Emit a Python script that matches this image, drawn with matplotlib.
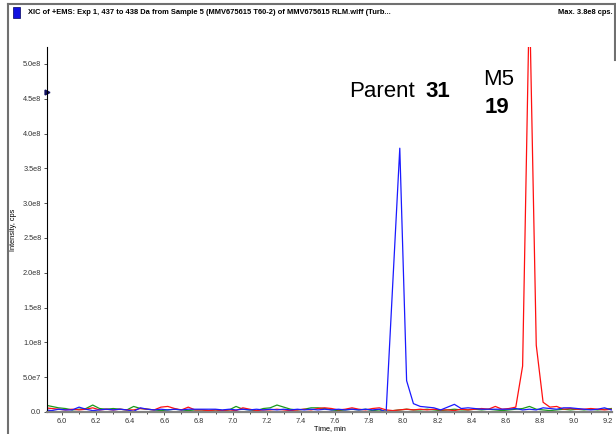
import numpy as np
import matplotlib.pyplot as plt
from matplotlib.lines import Line2D
from matplotlib.patches import Rectangle
from matplotlib.ticker import MultipleLocator, FuncFormatter

# sampling grid of the chromatogram (min)
time = np.round(np.arange(5.90, 9.2201, 0.04), 2)

# intensities in units of 1e8 cps
blue = [0.03, 0.02, 0.04, 0.03, 0.03, 0.07, 0.04, 0.02, 0.03, 0.04,
        0.03, 0.04, 0.03, 0.01, 0.06, 0.04, 0.03, 0.04, 0.03, 0.04,
        0.03, 0.04, 0.04, 0.04, 0.04, 0.04, 0.03, 0.04, 0.03, 0.04,
        0.03, 0.04, 0.03, 0.04, 0.03, 0.04, 0.03, 0.04, 0.03, 0.04,
        0.03, 0.04, 0.03, 0.04, 0.03, 0.04, 0.03, 0.04, 0.03, 0.04,
        0.00, 1.90, 3.79, 0.45, 0.12, 0.08, 0.07, 0.06, 0.03, 0.07,
        0.11, 0.05, 0.06, 0.05, 0.04, 0.04, 0.04, 0.04, 0.04, 0.05,
        0.03, 0.04, 0.03, 0.06, 0.05, 0.04, 0.06, 0.06, 0.05, 0.04,
        0.03, 0.04, 0.06, 0.03]
red = [0.06, 0.05, 0.04, 0.03, 0.04, 0.03, 0.04, 0.06, 0.03, 0.04,
       0.03, 0.04, 0.03, 0.03, 0.05, 0.04, 0.03, 0.07, 0.08, 0.05,
       0.03, 0.07, 0.03, 0.03, 0.02, 0.03, 0.02, 0.03, 0.02, 0.06,
       0.04, 0.02, 0.03, 0.03, 0.04, 0.03, 0.02, 0.03, 0.04, 0.03,
       0.05, 0.06, 0.05, 0.03, 0.04, 0.06, 0.04, 0.03, 0.05, 0.06,
       0.03, 0.02, 0.03, 0.04, 0.03, 0.04, 0.03, 0.04, 0.03, 0.03,
       0.02, 0.04, 0.03, 0.04, 0.05, 0.04, 0.08, 0.04, 0.05, 0.07,
       0.66, 6.00, 0.96, 0.14, 0.07, 0.08, 0.04, 0.05, 0.04, 0.04,
       0.05, 0.04, 0.03, 0.04]
green = [0.10, 0.08, 0.06, 0.05, 0.03, 0.04, 0.05, 0.10, 0.05, 0.04,
         0.05, 0.04, 0.03, 0.08, 0.05, 0.04, 0.03, 0.02, 0.03, 0.04,
         0.03, 0.02, 0.03, 0.03, 0.02, 0.03, 0.02, 0.03, 0.08, 0.04,
         0.03, 0.02, 0.05, 0.06, 0.10, 0.07, 0.04, 0.03, 0.04, 0.06,
         0.06, 0.05, 0.03, 0.02, 0.03, 0.04, 0.03, 0.04, 0.02, 0.03,
         0.01, 0.02, 0.03, 0.04, 0.03, 0.03, 0.04, 0.03, 0.02, 0.03,
         0.04, 0.03, 0.03, 0.04, 0.03, 0.04, 0.03, 0.02, 0.03, 0.04,
         0.05, 0.08, 0.04, 0.03, 0.02, 0.03, 0.04, 0.03, 0.04, 0.03,
         0.04, 0.03, 0.04, 0.05]

title = "XIC of +EMS: Exp 1, 437 to 438 Da from Sample 5 (MMV675615 T60-2) of MMV675615 RLM.wiff (Turb..."
maxtxt = "Max. 3.8e8 cps."
small = ['Liberation Sans Narrow', 'Liberation Sans', 'DejaVu Sans']
big = ['Liberation Sans', 'DejaVu Sans']

W, H = 616, 434
fig = plt.figure(figsize=(W / 100, H / 100), dpi=100)
ax = fig.add_axes([47 / W, (H - 412) / H, (612 - 47) / W, (412 - 47) / H])

ax.plot(time, np.array(green) * 1e8, color='#1a9a1a', lw=0.9)
ax.plot(time, np.array(red) * 1e8, color='#ff1010', lw=0.9)
ax.plot(time, np.array(blue) * 1e8, color='#1a1aff', lw=0.9)

ax.set_xlim(5.912, 9.224)
ax.set_ylim(0, 5.244e8)

ax.xaxis.set_major_locator(MultipleLocator(0.2))
ax.xaxis.set_minor_locator(MultipleLocator(0.1))
ax.yaxis.set_major_locator(MultipleLocator(0.5e8))
ax.xaxis.set_major_formatter(FuncFormatter(lambda v, p: f"{v:.1f}"))


def yfmt(v, p):
    if v <= 0:
        return "0.0"
    e = int(np.floor(np.log10(v)))
    return f"{v / 10**e:.1f}e{e}"


ax.yaxis.set_major_formatter(FuncFormatter(yfmt))
ax.tick_params(axis='both', labelsize=5.3, colors='#333333', length=2.5, width=0.6, pad=1.5)
ax.tick_params(axis='x', which='minor', length=1.5, width=0.5)
for lab in ax.get_xticklabels() + ax.get_yticklabels():
    lab.set_family(small)

for s in ['top', 'right']:
    ax.spines[s].set_visible(False)
ax.spines['left'].set_linewidth(0.8)
ax.spines['bottom'].set_color('#808080')
ax.spines['bottom'].set_linewidth(1.6)

ax.set_xlabel("Time, min", fontsize=5.3, family=small)
ax.xaxis.set_label_coords(0.5, -13 / 365)
ax.set_ylabel("Intensity, cps", fontsize=5.3, family=small)
ax.yaxis.set_label_coords((17 - 47) / 565, 0.5)

# marker on the y axis
ax.plot([5.912], [4.6e8], marker='>', color='#101060', ms=3.5, clip_on=False)

# peak labels
ax.text(7.682, 4.53e8, "Parent", fontsize=16, family=big, ha='left', va='baseline')
ax.text(8.13, 4.53e8, "31", fontsize=16, fontweight='bold', family=big,
        ha='left', va='baseline')
ax.text(8.468, 4.70e8, "M5", fontsize=16, family=big, ha='left', va='baseline')
ax.text(8.475, 4.29e8, "19", fontsize=16, fontweight='bold', family=big,
        ha='left', va='baseline')

# outer frame and header
def fx(px):
    return px / W


def fy(py):
    return 1 - py / H


fig.add_artist(Line2D([fx(8), fx(615)], [fy(4), fy(4)], color='#707070', lw=1.5))
fig.add_artist(Line2D([fx(8), fx(8)], [fy(4), fy(434)], color='#707070', lw=1.5))
fig.add_artist(Line2D([fx(615), fx(615)], [fy(4), fy(60)], color='#707070', lw=1.5))
fig.add_artist(Rectangle((fx(13), fy(18)), 7 / W, 11 / H, facecolor='#1010e0',
                         edgecolor='#000060', lw=0.5))
fig.text(fx(28), fy(12.5), title, fontsize=5.4, fontweight='bold', family=small,
         ha='left', va='center')
fig.text(fx(613), fy(12.5), maxtxt, fontsize=5.4, fontweight='bold', family=small,
         ha='right', va='center')

fig.savefig("out.png", dpi=100)
